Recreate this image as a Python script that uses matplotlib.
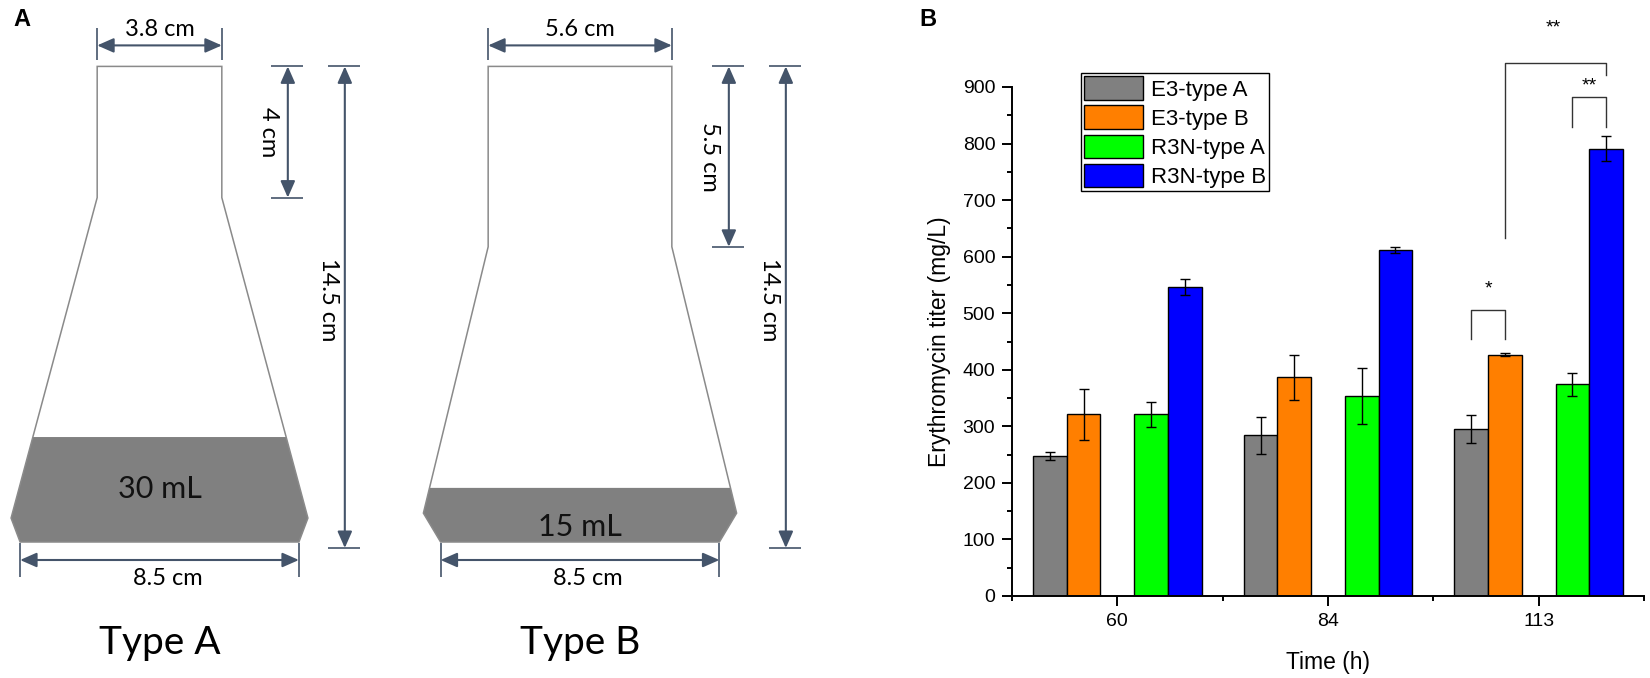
import numpy as np
import matplotlib
matplotlib.use('Agg')
import matplotlib.pyplot as plt
from matplotlib.patches import Polygon
from matplotlib.ticker import MultipleLocator, FixedLocator

W, H = 1650, 678
plt.rcParams['font.family'] = ['Liberation Sans', 'DejaVu Sans']

# ---- panel B data (mg/L) ----
times = ['60', '84', '113']
series = ['E3-type A', 'E3-type B', 'R3N-type A', 'R3N-type B']
colors = ['#808080', '#ff7f00', '#00ff00', '#0000ff']
e3_a = [248, 284, 295]
e3_a_err = [7, 33, 25]
e3_b = [321, 387, 427]
e3_b_err = [45, 40, 2]
r3n_a = [321, 354, 374]
r3n_a_err = [22, 50, 21]
r3n_b = [547, 612, 791]
r3n_b_err = [14, 5, 22]

# ---- panel A flask dimensions (cm) ----
flask_names = ['Type A', 'Type B']
neck_w = [3.8, 5.6]
neck_h = [4.0, 5.5]
total_h = [14.5, 14.5]
base_w = [8.5, 8.5]
shoulder_w = [9.05, 9.55]
shoulder_h = [0.73, 0.88]
liquid_h = [3.2, 1.65]
volumes = ['30 mL', '15 mL']

fig = plt.figure(figsize=(W / 100, H / 100), dpi=100)

# ================= panel A (pixel space) =================
axa = fig.add_axes([0, 0, 1, 1])
axa.set_xlim(0, W); axa.set_ylim(H, 0); axa.axis('off')

PX = 32.8                 # px per cm in the drawing
base_y = 542
centers = [159.5, 580]
dim_col = '#44546A'
wall_col = '#8a8a8a'
ah = '<|-|>,head_length=0.5,head_width=0.22'
lato = ['Lato', 'DejaVu Sans']

def darrow(x0, y0, x1, y1):
    axa.annotate('', xy=(x1, y1), xytext=(x0, y0),
                 arrowprops=dict(arrowstyle=ah, color=dim_col, lw=1.5,
                                 shrinkA=0, shrinkB=0, mutation_scale=20))

def eline(xs, ys):
    axa.plot(xs, ys, color=dim_col, lw=1.2, solid_capstyle='butt')

for i in range(2):
    cx = centers[i]
    nw, nh, Ht = neck_w[i], neck_h[i], total_h[i]
    bw, sw, sh, L = base_w[i], shoulder_w[i], shoulder_h[i], liquid_h[i]
    tx = lambda x: cx + x * PX
    ty = lambda y: base_y - y * PX
    outline = [(-nw/2, Ht), (-nw/2, Ht - nh), (-sw/2, sh), (-bw/2, 0),
               (bw/2, 0), (sw/2, sh), (nw/2, Ht - nh), (nw/2, Ht)]
    # liquid
    frac = (L - sh) / (Ht - nh - sh)
    xl = sw/2 + (nw/2 - sw/2) * frac
    liq = [(-xl, L), (-sw/2, sh), (-bw/2, 0), (bw/2, 0), (sw/2, sh), (xl, L)]
    axa.add_patch(Polygon([(tx(a), ty(b)) for a, b in liq], closed=True,
                          facecolor='#808080', edgecolor='none'))
    axa.add_patch(Polygon([(tx(a), ty(b)) for a, b in outline], closed=True,
                          facecolor='none', edgecolor=wall_col, lw=1.1))
    axa.text(tx(0), ty(L * 0.5) + 13 + (8 if i == 1 else 0) - (5 if i == 0 else 0),
             volumes[i], fontsize=22, family=lato, ha='center', va='baseline',
             color='#111111')

    top, neck_bot = ty(Ht), ty(Ht - nh)
    # neck width
    ay = top - 21
    darrow(tx(-nw/2), ay, tx(nw/2), ay)
    eline([tx(-nw/2)] * 2, [top - 38, top - 6])
    eline([tx(nw/2)] * 2, [top - 38, top - 6])
    axa.text(tx(0), top - 30, f'{nw:g} cm', fontsize=17, family=lato,
             ha='center', va='baseline')
    # neck height
    xn = tx(nw/2) + (66 if i == 0 else 57)
    darrow(xn, top, xn, neck_bot)
    eline([xn - 17, xn + 15], [top, top])
    eline([xn - 17, xn + 15], [neck_bot, neck_bot])
    axa.text(xn - 19, (top + neck_bot) / 2, f'{nh:g} cm', fontsize=17,
             family=lato, rotation=-90, ha='center', va='center')
    # total height
    xt = xn + 57
    bot = base_y + 6
    darrow(xt, top, xt, bot)
    eline([xt - 17, xt + 15], [top, top])
    eline([xt - 17, xt + 15], [bot, bot])
    axa.text(xt - 16, 300, f'{Ht:g} cm', fontsize=17, family=lato,
             rotation=-90, ha='center', va='center')
    # base width
    by = base_y + 18
    darrow(tx(-bw/2), by, tx(bw/2), by)
    eline([tx(-bw/2)] * 2, [base_y + 1, base_y + 35])
    eline([tx(bw/2)] * 2, [base_y + 1, base_y + 35])
    axa.text(tx(0) + 8, base_y + 43, f'{bw:g} cm', fontsize=17, family=lato,
             ha='center', va='baseline')
    axa.text(tx(0), 654, flask_names[i], fontsize=28, family=lato,
             ha='center', va='baseline')

# ================= panel B =================
axb = fig.add_axes([1012 / W, 1 - 596 / H, (1644 - 1012) / W, (596 - 87) / H])
x = np.arange(len(times))
w = 0.16
offsets = [-2 * w, -w, w, 2 * w]
vals = [e3_a, e3_b, r3n_a, r3n_b]
errs = [e3_a_err, e3_b_err, r3n_a_err, r3n_b_err]
for v, e, off, col, lab in zip(vals, errs, offsets, colors, series):
    axb.bar(x + off, v, w, yerr=e, color=col, edgecolor='black', linewidth=1,
            label=lab, error_kw=dict(ecolor='black', elinewidth=1, capsize=3.3,
                                     capthick=1))

axb.set_xlim(-0.5, 2.5)
axb.set_ylim(0, 900)
axb.set_xticks(x)
axb.set_xticklabels(times)
axb.xaxis.set_minor_locator(FixedLocator([-0.5, 0.5, 1.5, 2.5]))
axb.yaxis.set_major_locator(MultipleLocator(100))
axb.yaxis.set_minor_locator(MultipleLocator(50))
for s in ['top', 'right']:
    axb.spines[s].set_visible(False)
for s in ['left', 'bottom']:
    axb.spines[s].set_linewidth(1.4)
axb.tick_params(which='major', direction='out', length=7, width=1.4,
                labelsize=14, pad=5)
axb.tick_params(which='minor', direction='out', length=3.6, width=1.4)
axb.set_ylabel('Erythromycin titer (mg/L)', fontsize=16.5)
axb.set_xlabel('Time (h)', fontsize=16.5)
axb.yaxis.set_label_coords(-0.1155, 0.5)
axb.xaxis.set_label_coords(0.5, -0.13)
axb.xaxis.label.set_va('center')
axb.yaxis.label.set_va('center')

# significance brackets
bc = '#333333'
g2, o2, gr2, b2 = 2 + offsets[0], 2 + offsets[1], 2 + offsets[2], 2 + offsets[3]
axb.plot([g2, g2, o2, o2], [454, 506, 506, 454], color=bc, lw=1)
axb.text((g2 + o2) / 2, 543, '*', ha='center', va='center', fontsize=14)
axb.plot([gr2, gr2, b2, b2], [829, 882, 882, 829], color=bc, lw=1, clip_on=False)
axb.text((gr2 + b2) / 2, 902, '**', ha='center', va='center', fontsize=14,
         clip_on=False)
axb.plot([o2, o2, b2, b2], [633, 943, 943, 921], color=bc, lw=1, clip_on=False)
axb.text(2.07, 1005, '**', ha='center', va='center', fontsize=14, clip_on=False)

leg = axb.legend(loc='upper left', bbox_to_anchor=(1081 / W, 1 - 73 / H),
                 bbox_transform=fig.transFigure, borderaxespad=0, fontsize=16,
                 frameon=True, fancybox=False, framealpha=1, edgecolor='black',
                 handlelength=2.65, handleheight=1.25, labelspacing=0.22,
                 handletextpad=0.35, borderpad=0.15)
leg.get_frame().set_linewidth(1)

fig.text(22 / W, 1 - 19 / H, 'A', fontsize=17, fontweight='bold',
         ha='center', va='center')
fig.text(928 / W, 1 - 19 / H, 'B', fontsize=17, fontweight='bold',
         ha='center', va='center')

fig.savefig('out.png', dpi=100)
